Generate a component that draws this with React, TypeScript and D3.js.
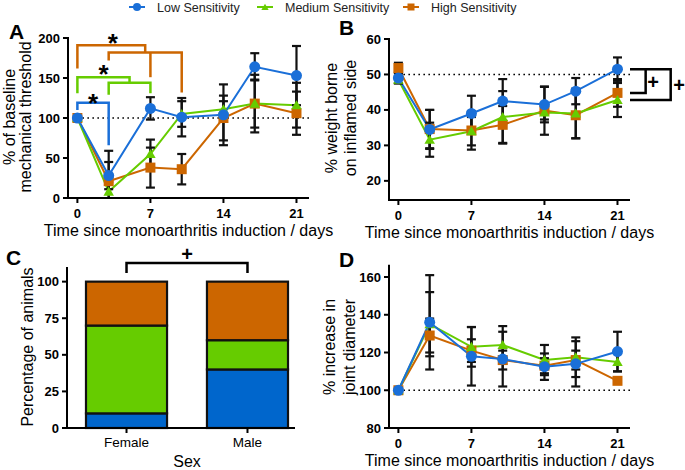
import * as d3 from "d3";

const FONT = "'Liberation Sans', Arial, Helvetica, sans-serif";

const DAYS = [0, 3, 7, 10, 14, 17, 21];
const DAY_TICKS = [0, 7, 14, 21];

const BLUE = "#1a6fd8";
const GREEN = "#66cc00";
const ORANGE = "#cc6600";

// Panel A: % of baseline mechanical threshold
const A_LOW = [100, 28, 112, 101, 104, 164, 153];
const A_LOW_ERR = [0, 17, 14, 24, 38, 17, 37];
const A_MED = [100, 8, 55, 105, 111, 118, 116];
const A_MED_ERR = [0, 12, 18, 16, 10, 36, 28];
const A_HIGH = [100, 21, 38, 36, 100, 118, 106];
const A_HIGH_ERR = [0, 38, 25, 19, 28, 30, 27];

// Panel B: % weight borne on inflamed side
const B_LOW = [49, 34.5, 39, 42.5, 41.5, 45.3, 51.5];
const B_LOW_ERR = [1.5, 5.5, 5, 6.2, 5, 3.7, 3.3];
const B_MED = [48.5, 31.6, 34, 38, 39.3, 39, 42.8];
const B_MED_ERR = [1, 4.8, 4, 7.3, 2, 7, 4.8];
const B_HIGH = [51.8, 34.6, 34.2, 35.8, 39.8, 38.5, 44.8];
const B_HIGH_ERR = [1.5, 5.4, 5.4, 5.3, 6.8, 6.5, 3.9];

// Panel C: percentage of animals by sex
const SEXES = ["Female", "Male"];
const C_LOW = [10, 40];
const C_MED = [60, 20];
const C_HIGH = [30, 40];

// Panel D: % increase in joint diameter
const D_LOW = [100, 136, 118, 116.5, 112.5, 114, 120.5];
const D_LOW_ERR = [0, 25, 15.5, 14.5, 7, 12, 10.5];
const D_MED = [100, 135, 123, 124, 116, 117.5, 115];
const D_MED_ERR = [0, 17, 10.5, 10, 8, 10.5, 5];
const D_HIGH = [100, 129, 121, 116, 113, 116, 105];
const D_HIGH_ERR = [0, 9, 6, 5, 4, 5, 0];

type Shape = "circle" | "triangle" | "square";
type Ser = { color: string; shape: Shape; v: number[]; e: number[] };

const mk = (high: number[], highE: number[], med: number[], medE: number[], low: number[], lowE: number[]): Ser[] => [
  { color: ORANGE, shape: "square", v: high, e: highE },
  { color: GREEN, shape: "triangle", v: med, e: medE },
  { color: BLUE, shape: "circle", v: low, e: lowE },
];

function Marker({ shape, cx, cy, color, s }: { shape: Shape; cx: number; cy: number; color: string; s: number }) {
  if (shape === "circle") return <circle cx={cx} cy={cy} r={s / 2} fill={color} />;
  if (shape === "square") return <rect x={cx - s / 2} y={cy - s / 2} width={s} height={s} fill={color} />;
  const d = d3.symbol(d3.symbolTriangle, (s * s * Math.sqrt(3)) / 4 * 1.1)() as string;
  return <path d={d} transform={`translate(${cx},${cy + 1})`} fill={color} />;
}

function TimePanel({
  x, y, yTicks, series, refVal,
}: {
  x: d3.ScaleLinear<number, number>; y: d3.ScaleLinear<number, number>; yTicks: number[]; series: Ser[]; refVal: number;
}) {
  const [x0, x1] = x.range();
  const [yb, yt] = y.range();
  const [dmin, dmax] = y.domain();
  const clampV = (v: number) => Math.max(dmin, Math.min(dmax, v));
  const line = d3.line<number>().x((_, i) => x(DAYS[i])).y((v) => y(v));
  return (
    <g>
      <line x1={x(0)} x2={x1} y1={y(refVal)} y2={y(refVal)} stroke="#000" strokeWidth={1.6} strokeDasharray="1.6,3.4" />
      {series.map((s, k) => (
        <path key={k} d={line(s.v) as string} fill="none" stroke={s.color} strokeWidth={2} />
      ))}
      {series.map((s, k) =>
        s.v.map((v, i) => {
          if (!s.e[i]) return null;
          const cx = x(DAYS[i]);
          const top = y(clampV(v + s.e[i]));
          const bot = y(clampV(v - s.e[i]));
          return (
            <g key={`${k}-${i}`} stroke="#111" strokeWidth={2.2}>
              <line x1={cx} x2={cx} y1={top} y2={bot} />
              {v + s.e[i] <= dmax && <line x1={cx - 4.5} x2={cx + 4.5} y1={top} y2={top} />}
              {v - s.e[i] >= dmin && <line x1={cx - 4.5} x2={cx + 4.5} y1={bot} y2={bot} />}
            </g>
          );
        })
      )}
      {series.map((s, k) =>
        s.v.map((v, i) => <Marker key={`${k}-${i}`} shape={s.shape} cx={x(DAYS[i])} cy={y(v)} color={s.color} s={s.shape === "circle" ? 11 : 10} />)
      )}
      {/* axes */}
      <g stroke="#000" strokeWidth={2} fill="none">
        <line x1={x0} x2={x1} y1={yb} y2={yb} />
        <line x1={x0} x2={x0} y1={yb + 1} y2={yt - 1} />
        {DAY_TICKS.map((t) => <line key={t} x1={x(t)} x2={x(t)} y1={yb} y2={yb + 5} />)}
        {yTicks.map((t) => <line key={t} x1={x0 - 5} x2={x0} y1={y(t)} y2={y(t)} />)}
      </g>
      <g fontFamily={FONT} fontSize={13} fontWeight="bold" fill="#000">
        {DAY_TICKS.map((t) => <text key={t} x={x(t)} y={yb + 20} textAnchor="middle">{t}</text>)}
        {yTicks.map((t) => <text key={t} x={x0 - 8} y={y(t) + 4.5} textAnchor="end">{t}</text>)}
      </g>
      <text x={(x0 + x1) / 2} y={yb + 38} textAnchor="middle" fontFamily={FONT} fontSize={16} fill="#000">
        Time since monoarthritis induction / days
      </text>
    </g>
  );
}

function YTitle({ lines, xs, cy }: { lines: string[]; xs: number[]; cy: number }) {
  return (
    <g fontFamily={FONT} fontSize={16} fill="#000">
      {lines.map((l, i) => (
        <text key={i} transform={`translate(${xs[i]},${cy}) rotate(-90)`} textAnchor="middle" dy="0.35em">{l}</text>
      ))}
    </g>
  );
}

export default function App() {
  // panel A
  const xA = d3.scaleLinear().domain([-0.9, 22.2]).range([68, 309]);
  const yA = d3.scaleLinear().domain([0, 200]).range([198, 38]);
  // panel B
  const xB = d3.scaleLinear().domain([-0.9, 22.2]).range([389, 630]);
  const yB = d3.scaleLinear().domain([14.6, 60]).range([200, 39]);
  // panel D
  const xD = xB.copy();
  const yD = d3.scaleLinear().domain([80, 166]).range([428, 265.7]);
  // panel C
  const xC = d3.scaleBand<string>().domain(SEXES).range([67, 307]).paddingInner(0.33).paddingOuter(0.157);
  const yC = d3.scaleLinear().domain([0, 110]).range([428, 267]);

  const stacks = SEXES.map((_, i) => {
    const parts = [
      { c: "#0066cc", v: C_LOW[i] },
      { c: GREEN, v: C_MED[i] },
      { c: ORANGE, v: C_HIGH[i] },
    ];
    let acc = 0;
    return parts.map((p) => {
      const r = { c: p.c, y0: acc, y1: acc + p.v };
      acc += p.v;
      return r;
    });
  });

  const bw = xC.bandwidth();
  const mid = (s: string) => (xC(s) as number) + bw / 2;
  const br = (pts: [number, number][], x: d3.ScaleLinear<number, number>, y: d3.ScaleLinear<number, number>) =>
    d3.line<[number, number]>().x((d) => x(d[0])).y((d) => y(d[1]))(pts) as string;

  const legend = [
    { label: "Low Sensitivity", color: BLUE, shape: "circle" as Shape, cx: 137 },
    { label: "Medium Sensitivity", color: GREEN, shape: "triangle" as Shape, cx: 265 },
    { label: "High Sensitivity", color: ORANGE, shape: "square" as Shape, cx: 411 },
  ];

  return (
    <svg width={685} height={470} style={{ position: "absolute", left: 0, top: 0, background: "#fff" }}>
      {/* legend */}
      {legend.map((l) => (
        <g key={l.label}>
          <line x1={l.cx - 8} x2={l.cx + 8} y1={7} y2={7} stroke={l.color} strokeWidth={2} />
          <Marker shape={l.shape} cx={l.cx} cy={7} color={l.color} s={l.shape === "circle" ? 8 : 7} />
          <text x={l.cx + 20} y={11.5} fontFamily={FONT} fontSize={12.5} fill="#222">{l.label}</text>
        </g>
      ))}

      {/* Panel A */}
      <TimePanel x={xA} y={yA} yTicks={[0, 50, 100, 150, 200]} series={mk(A_HIGH, A_HIGH_ERR, A_MED, A_MED_ERR, A_LOW, A_LOW_ERR)} refVal={100} />
      <g fill="none" strokeWidth={2.5}>
        <path d={br([[0, 110], [0, 119], [3, 119], [3, 66]], xA, yA)} stroke={BLUE} />
        <path d={br([[0, 131], [0, 151], [5, 151], [5, 144]], xA, yA)} stroke={GREEN} />
        <path d={br([[3, 129], [3, 144], [7, 144], [7, 131]], xA, yA)} stroke={GREEN} />
        <path d={br([[0, 162], [0, 191], [6.5, 191], [6.5, 182]], xA, yA)} stroke={ORANGE} />
        <path d={br([[3, 172], [3, 182], [10, 182], [10, 132]], xA, yA)} stroke={ORANGE} />
        <path d={br([[7, 182], [7, 151]], xA, yA)} stroke={ORANGE} />
      </g>
      <g fontFamily={FONT} fontSize={26} fontWeight="bold" textAnchor="middle" fill="#000">
        <text x={xA(1.5)} y={yA(125) + 14}>*</text>
        <text x={xA(2.5)} y={yA(161) + 14}>*</text>
        <text x={xA(3.4)} y={yA(200) + 14}>*</text>
      </g>
      <YTitle lines={["% of baseline", "mechanical threshold"]} xs={[9, 25]} cy={117} />

      {/* Panel B */}
      <TimePanel x={xB} y={yB} yTicks={[20, 30, 40, 50, 60]} series={mk(B_HIGH, B_HIGH_ERR, B_MED, B_MED_ERR, B_LOW, B_LOW_ERR)} refVal={50} />
      <g fill="none" stroke="#000" strokeWidth={2.5}>
        <path d={br([[22.2, B_LOW[6]], [26.1, B_LOW[6]], [26.1, B_MED[6]], [22.2, B_MED[6]]], xB, yB)} />
        <path d={br([[23.7, B_LOW[6]], [23.7, B_HIGH[6]], [22.2, B_HIGH[6]]], xB, yB)} />
      </g>
      <g fontFamily={FONT} fontSize={20} fontWeight="bold" textAnchor="middle" fill="#000">
        <text x={653} y={89}>+</text>
        <text x={679} y={92}>+</text>
      </g>
      <YTitle lines={["% weight borne", "on inflamed side"]} xs={[331, 350]} cy={118} />

      {/* Panel C */}
      {stacks.map((st, i) =>
        st.map((p, k) => (
          <rect key={`${i}-${k}`} x={xC(SEXES[i])} y={yC(p.y1)} width={bw} height={yC(p.y0) - yC(p.y1)} fill={p.c} stroke="#111" strokeWidth={2.2} />
        ))
      )}
      <g stroke="#000" strokeWidth={2} fill="none">
        <line x1={67} x2={295} y1={428} y2={428} />
        <line x1={67} x2={67} y1={429} y2={267} />
        {[0, 25, 50, 75, 100].map((t) => <line key={t} x1={62} x2={67} y1={yC(t)} y2={yC(t)} />)}
        {SEXES.map((s) => <line key={s} x1={mid(s)} x2={mid(s)} y1={428} y2={433} />)}
      </g>
      <g fontFamily={FONT} fontSize={13} fontWeight="bold" fill="#000">
        {[0, 25, 50, 75, 100].map((t) => <text key={t} x={59} y={yC(t) + 4.5} textAnchor="end">{t}</text>)}
      </g>
      <g fontFamily={FONT} fontSize={13.5} fill="#000" textAnchor="middle">
        {SEXES.map((s) => <text key={s} x={mid(s)} y={447}>{s}</text>)}
      </g>
      <text x={187} y={467} textAnchor="middle" fontFamily={FONT} fontSize={16} fill="#000">Sex</text>
      <path
        d={`M${mid("Female")},${yC(105.9)}V${yC(112.7)}H${mid("Male")}V${yC(105.9)}`}
        fill="none" stroke="#000" strokeWidth={2.5}
      />
      <text x={(mid("Female") + mid("Male")) / 2} y={yC(119) + 7} textAnchor="middle" fontFamily={FONT} fontSize={20} fontWeight="bold">+</text>
      <YTitle lines={["Percentage of animals"]} xs={[27]} cy={347} />

      {/* Panel D */}
      <TimePanel x={xD} y={yD} yTicks={[80, 100, 120, 140, 160]} series={mk(D_HIGH, D_HIGH_ERR, D_MED, D_MED_ERR, D_LOW, D_LOW_ERR)} refVal={100} />
      <YTitle lines={["% increase in", "joint diameter"]} xs={[329, 349]} cy={347} />

      {/* panel letters */}
      <g fontFamily={FONT} fontSize={21} fontWeight="bold" fill="#000">
        <text x={9} y={39}>A</text>
        <text x={339} y={35}>B</text>
        <text x={6} y={265}>C</text>
        <text x={339} y={267}>D</text>
      </g>
    </svg>
  );
}
